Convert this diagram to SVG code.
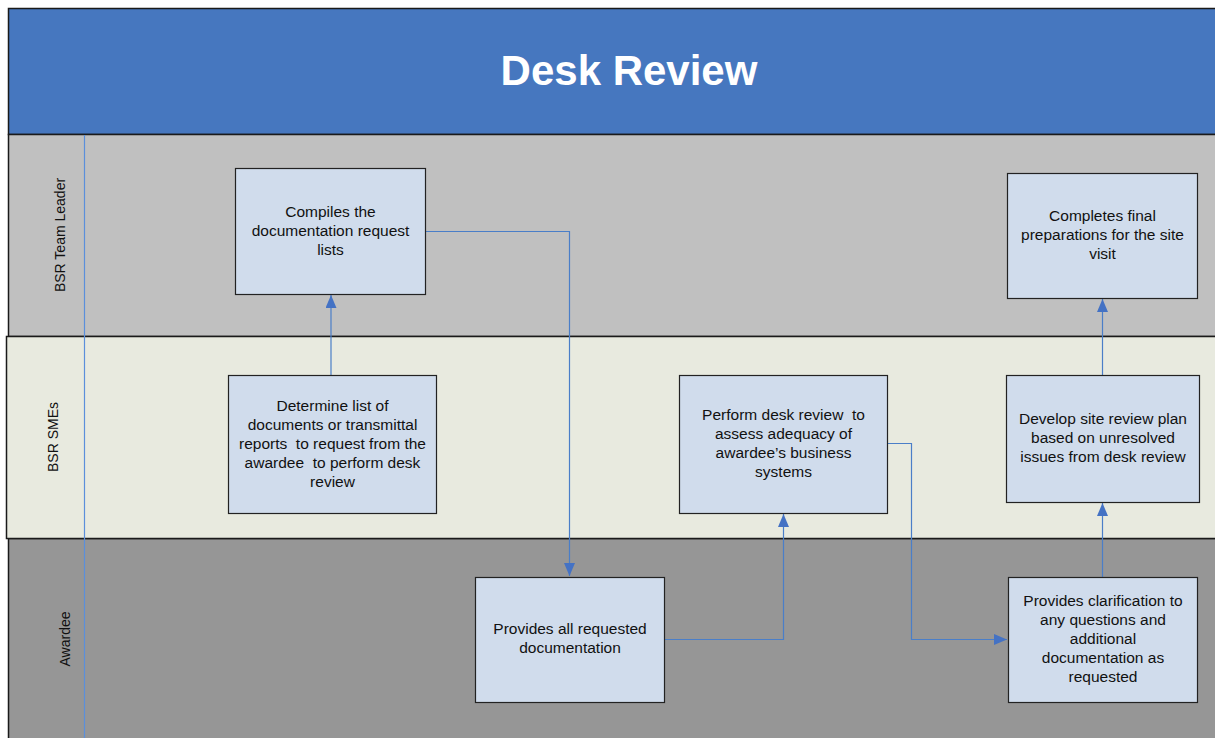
<svg xmlns="http://www.w3.org/2000/svg" width="1215" height="738" viewBox="0 0 1215 738">
  <style>
    .lane { stroke: #1a1a1a; stroke-width: 1.5; }
    .box { fill: #D0DCEC; stroke: #222; stroke-width: 1.2; }
    .txt { font-family: "Liberation Sans", Arial, sans-serif; font-size: 15.5px; fill: #111; text-anchor: middle; white-space: pre; }
    .lbl { font-family: "Liberation Sans", Arial, sans-serif; font-size: 14px; fill: #111; text-anchor: middle; }
    .conn { fill: none; stroke: #4A7EC8; stroke-width: 1.2; marker-end: url(#arr); }
  </style>
  <defs>
    <marker id="arr" viewBox="0 0 13 11" refX="13" refY="5.5" markerWidth="13" markerHeight="11" markerUnits="userSpaceOnUse" orient="auto">
      <path d="M0,0 L13,5.5 L0,11 z" fill="#4472C4"/>
    </marker>
  </defs>

  <rect width="1215" height="738" fill="#ffffff"/>

  <!-- title band -->
  <g id="title">
    <rect x="8.5" y="8.5" width="1220" height="126" fill="#4677BF" class="lane"/>
    <text x="629" y="85" font-family="'Liberation Sans', Arial, sans-serif" font-size="42" font-weight="bold" fill="#ffffff" text-anchor="middle">Desk Review</text>
  </g>

  <!-- swimlanes -->
  <g id="lane-leader">
    <rect x="8.5" y="134.5" width="1220" height="202" fill="#C0C0C0" class="lane"/>
    <text class="lbl" transform="translate(65,235) rotate(-90)">BSR Team Leader</text>
  </g>
  <g id="lane-awardee">
    <rect x="8.5" y="538.5" width="1220" height="210" fill="#969696" class="lane"/>
    <text class="lbl" transform="translate(70,639) rotate(-90)">Awardee</text>
  </g>
  <g id="lane-smes">
    <rect x="6.5" y="336.5" width="1220" height="202" fill="#E8EADF" class="lane"/>
    <text class="lbl" transform="translate(58,437) rotate(-90)">BSR SMEs</text>
  </g>

  <!-- lane header divider -->
  <line x1="84.5" y1="135" x2="84.5" y2="738" stroke="#5B8FDB" stroke-width="1.2"/>

  <!-- connectors -->
  <g id="connectors">
    <path class="conn" d="M331,375 L331,295"/>
    <path class="conn" d="M425,231.5 L569.5,231.5 L569.5,576"/>
    <path class="conn" d="M664,639.5 L783.5,639.5 L783.5,514"/>
    <path class="conn" d="M887,443.5 L911.5,443.5 L911.5,639.5 L1007,639.5"/>
    <path class="conn" d="M1102.5,577 L1102.5,503"/>
    <path class="conn" d="M1102.5,375 L1102.5,299"/>
  </g>

  <!-- process steps -->
  <g id="compiles">
    <rect class="box" x="235.5" y="168.5" width="190" height="126"/>
    <text class="txt" x="330.5" y="217">Compiles the</text>
    <text class="txt" x="330.5" y="236">documentation request</text>
    <text class="txt" x="330.5" y="255">lists</text>
  </g>
  <g id="determine">
    <rect class="box" x="228.5" y="375.5" width="208" height="138"/>
    <text class="txt" x="332.5" y="411">Determine list of</text>
    <text class="txt" x="332.5" y="430">documents or transmittal</text>
    <text class="txt" x="332.5" y="449">reports  to request from the</text>
    <text class="txt" x="332.5" y="468">awardee  to perform desk</text>
    <text class="txt" x="332.5" y="487">review</text>
  </g>
  <g id="provides-all">
    <rect class="box" x="475.5" y="577.5" width="189" height="125"/>
    <text class="txt" x="570" y="634">Provides all requested</text>
    <text class="txt" x="570" y="653">documentation</text>
  </g>
  <g id="perform">
    <rect class="box" x="679.5" y="375.5" width="208" height="138"/>
    <text class="txt" x="783.5" y="420">Perform desk review  to</text>
    <text class="txt" x="783.5" y="439">assess adequacy of</text>
    <text class="txt" x="783.5" y="458">awardee’s business</text>
    <text class="txt" x="783.5" y="477">systems</text>
  </g>
  <g id="develop">
    <rect class="box" x="1006.5" y="375.5" width="193" height="127"/>
    <text class="txt" x="1103" y="424">Develop site review plan</text>
    <text class="txt" x="1103" y="443">based on unresolved</text>
    <text class="txt" x="1103" y="462">issues from desk review</text>
  </g>
  <g id="completes">
    <rect class="box" x="1007.5" y="173.5" width="190" height="125"/>
    <text class="txt" x="1102.5" y="221">Completes final</text>
    <text class="txt" x="1102.5" y="240">preparations for the site</text>
    <text class="txt" x="1102.5" y="259">visit</text>
  </g>
  <g id="clarification">
    <rect class="box" x="1008.5" y="577.5" width="189" height="125"/>
    <text class="txt" x="1103" y="606">Provides clarification to</text>
    <text class="txt" x="1103" y="625">any questions and</text>
    <text class="txt" x="1103" y="644">additional</text>
    <text class="txt" x="1103" y="663">documentation as</text>
    <text class="txt" x="1103" y="682">requested</text>
  </g>
</svg>
